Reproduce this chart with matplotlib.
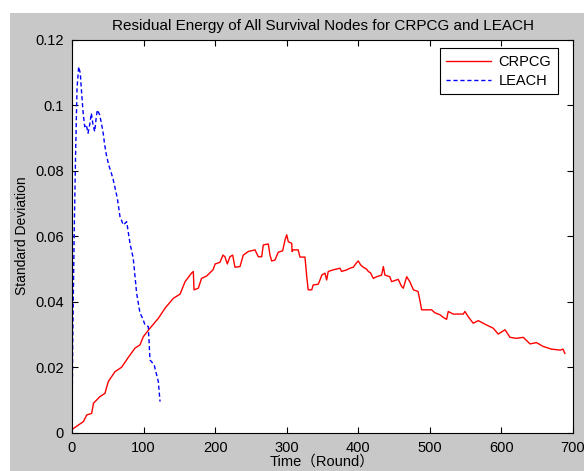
import matplotlib
matplotlib.use("Agg")
import matplotlib.pyplot as plt
from matplotlib.patches import Rectangle

# CRPCG series (round, standard deviation)
crpcg_x = [0, 2, 16, 20.5, 27.5, 30, 39, 46, 50.7, 60, 69.4, 78.7, 88, 95, 99.6, 109, 120.6,
           130, 141.5, 151, 158, 167, 169.5, 170.5, 176.5, 181, 188, 197, 200, 206.7, 211,
           213.7, 217, 220.7, 224.5, 227.7, 234.7, 239.3, 246.3, 255.7, 260.3, 265, 267.3,
           274.3, 276.6, 279, 283.6, 288.2, 294.3, 297.6, 300, 302.2, 307, 307.5, 309, 316,
           318.5, 325.5, 328, 330, 335, 337, 344, 347.4, 349, 353.4, 355.8, 358, 365, 374.4,
           376.7, 383.8, 388.4, 393, 397.7, 400, 403.3, 407, 411.7, 414, 417, 421, 425.7,
           432.6, 435, 437.2, 444, 446.6, 455.8, 460.6, 462.9, 467.6, 472, 477, 483.5, 486,
           488.5, 495.5, 502.5, 507, 514, 518.7, 523.4, 525.7, 532.7, 546.7, 549, 553.6,
           560.6, 567.6, 579, 588.5, 595.5, 605, 612, 621, 630.5, 640, 649, 658.5, 670, 682,
           686, 688.6]
crpcg_y = [0.0008, 0.0013, 0.0034, 0.0054, 0.0059, 0.009, 0.011, 0.012, 0.0156, 0.0186,
           0.020, 0.023, 0.0258, 0.0268, 0.0293, 0.0319, 0.0349, 0.038, 0.041, 0.0423,
           0.0461, 0.0487, 0.0492, 0.0436, 0.0441, 0.0471, 0.0478, 0.0497, 0.0515, 0.052,
           0.0542, 0.0537, 0.0515, 0.0537, 0.0542, 0.0505, 0.0507, 0.0542, 0.0553, 0.0558,
           0.0537, 0.0537, 0.0573, 0.0576, 0.0542, 0.0524, 0.0527, 0.0551, 0.0555, 0.0588,
           0.0604, 0.0583, 0.0578, 0.0553, 0.0558, 0.0558, 0.0536, 0.0536, 0.0476, 0.0436,
           0.0436, 0.0451, 0.0453, 0.0471, 0.0481, 0.0487, 0.0466, 0.0492, 0.0497, 0.0502,
           0.0492, 0.0497, 0.0502, 0.0505, 0.0519, 0.0524, 0.0512, 0.0505, 0.0499, 0.0492,
           0.0488, 0.0471, 0.0476, 0.0481, 0.0507, 0.0481, 0.0476, 0.0461, 0.0468, 0.0446,
           0.0441, 0.0476, 0.0461, 0.0436, 0.0431, 0.0405, 0.0375, 0.0375, 0.0375, 0.0366,
           0.036, 0.0352, 0.0346, 0.037, 0.0362, 0.0362, 0.037, 0.0354, 0.0334, 0.0342,
           0.0329, 0.0319, 0.0301, 0.0314, 0.0291, 0.0288, 0.0291, 0.0271, 0.0275, 0.0263,
           0.0255, 0.0252, 0.0255, 0.0242]

# LEACH series (round, standard deviation)
leach_x = [0, 1, 3, 5, 7, 9.3, 11.6, 13, 15.4, 17.7, 20, 22.4, 24.7, 27, 29.3, 31.7, 34,
           35.4, 38.7, 41, 43.3, 45.7, 48, 51.3, 55, 57.7, 63.3, 67, 71.7, 76.4, 81, 85.6,
           90.3, 95, 98.7, 102, 106.6, 109, 114.8, 120.6, 123]
leach_y = [0.0, 0.028, 0.06, 0.085, 0.105, 0.1117, 0.1097, 0.105, 0.098, 0.0934, 0.094,
           0.0914, 0.094, 0.0975, 0.094, 0.0919, 0.0965, 0.0985, 0.097, 0.0945, 0.0919,
           0.0878, 0.0848, 0.0817, 0.0792, 0.0771, 0.0716, 0.066, 0.0634, 0.0644, 0.0578,
           0.0532, 0.0426, 0.0365, 0.0349, 0.0329, 0.0324, 0.0222, 0.0207, 0.0156, 0.0095]

x_ticks = [0, 100, 200, 300, 400, 500, 600, 700]
y_ticks = [0, 0.02, 0.04, 0.06, 0.08, 0.1, 0.12]
y_tick_labels = ["0", "0.02", "0.04", "0.06", "0.08", "0.1", "0.12"]

title = "Residual Energy of All Survival Nodes for CRPCG and LEACH"
xlabel = "Time\uff08Round\uff09"
ylabel = "Standard Deviation"

fams = ["Liberation Sans", "Noto Sans CJK SC", "DejaVu Sans"]
plt.rcParams["font.family"] = fams
plt.rcParams["font.size"] = 10

fig = plt.figure(figsize=(5.84, 4.71), dpi=100, facecolor="white")
fig.patches.append(Rectangle((10 / 584, 0), 1 - 10 / 584, 1 - 13 / 471,
                             transform=fig.transFigure, facecolor="#c8c8c8",
                             edgecolor="none", zorder=-10))

ax = fig.add_axes([72 / 584, 1 - 432.7 / 471, 501 / 584, 393.2 / 471])
ax.set_facecolor("white")

ax.plot(crpcg_x, crpcg_y, color="#ff0000", linewidth=1.0, label="CRPCG")
ax.plot(leach_x, leach_y, color="#0000ff", linewidth=1.0, linestyle=(0, (3, 2)), label="LEACH")

ax.set_xlim(0, 700)
ax.set_ylim(0, 0.12)
ax.set_xticks(x_ticks)
ax.set_yticks(y_ticks)
ax.set_yticklabels(y_tick_labels)
ax.tick_params(direction="in", length=4, width=0.8, top=True, right=True,
               labelsize=10.5, colors="black", pad=6)
for s in ax.spines.values():
    s.set_linewidth(0.8)
    s.set_color("black")

ax.set_title(title, fontsize=11, pad=7)
ax.set_xlabel(xlabel, fontsize=10.5, labelpad=0)
ax.set_ylabel(ylabel, fontsize=10, labelpad=4)

leg = ax.legend(loc="upper right", bbox_to_anchor=(0.970, 0.978), borderaxespad=0,
                fancybox=False, framealpha=1, edgecolor="black", fontsize=10.5,
                handlelength=3.1, handletextpad=0.5, borderpad=0.45, labelspacing=0.35)
leg.get_frame().set_linewidth(0.8)

fig.savefig("out.png", dpi=100, facecolor="white")
